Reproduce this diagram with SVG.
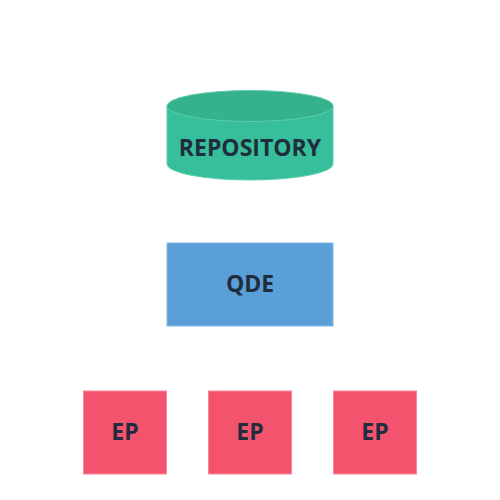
<svg xmlns="http://www.w3.org/2000/svg" width="500" height="500" viewBox="0 0 500 500">
<style>
.lbl{font-family:"Open Sans","Noto Sans",sans-serif;font-weight:bold;font-size:23px;fill:#1f2d3d;text-anchor:middle;dominant-baseline:central}
.ep{fill:#f4536e;stroke:#f7889a;stroke-width:1}
</style>
<rect width="500" height="500" fill="#ffffff"/>
<g id="connectors"></g>
<g id="repository">
<path d="M167,106 L167,164 A83,16 0 0 0 333,164 L333,106 Z" fill="#36bf9a" stroke="#5ccdae" stroke-width="1"/>
<ellipse cx="250" cy="106" rx="83" ry="15.5" fill="#35b18b" stroke="#5ccdae" stroke-width="1"/>
<text class="lbl" x="250" y="147">REPOSITORY</text>
</g>
<g id="qde">
<rect x="167" y="243" width="166" height="83" fill="#5b9fd8" stroke="#84b8e6" stroke-width="1"/>
<text class="lbl" x="250" y="283">QDE</text>
</g>
<g id="ep1">
<rect class="ep" x="83.5" y="391" width="83" height="83"/>
<text class="lbl" x="125" y="431">EP</text>
</g>
<g id="ep2">
<rect class="ep" x="208.5" y="391" width="83" height="83"/>
<text class="lbl" x="250" y="431">EP</text>
</g>
<g id="ep3">
<rect class="ep" x="333.5" y="391" width="83" height="83"/>
<text class="lbl" x="375" y="431">EP</text>
</g>
</svg>
